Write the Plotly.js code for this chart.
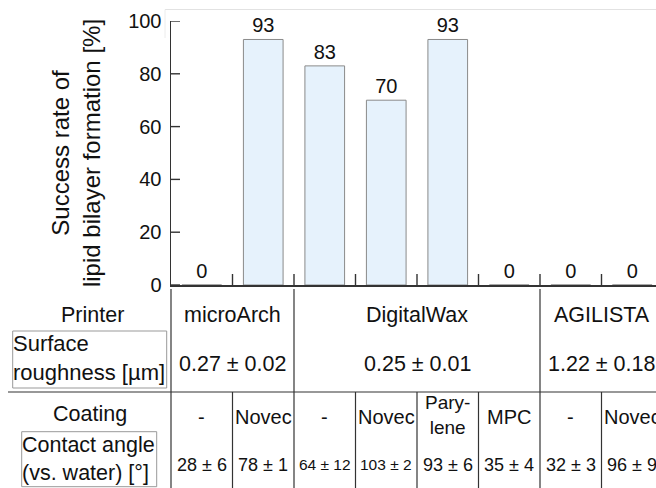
<!DOCTYPE html>
<html><head><meta charset="utf-8">
<script src="https://cdn.plot.ly/plotly-3.0.1.min.js"></script>
<style>html,body{margin:0;padding:0;background:#fff}</style>
</head><body><div id="chart" style="width:656px;height:488px"></div>
<script>
// ---- data ----
const barIndex = [0, 1, 2, 3, 4, 5, 6, 7];
const successRate = [0, 93, 83, 70, 93, 0, 0, 0];
const printers = ['microArch', 'DigitalWax', 'AGILISTA'];
const barsPerPrinter = [2, 4, 2];
const roughness = ['0.27 ± 0.02', '0.25 ± 0.01', '1.22 ± 0.18'];
const coatings = ['-', 'Novec', '-', 'Novec', 'Pary-<br>lene', 'MPC', '-', 'Novec'];
const contactAngles = ['28 ± 6', '78 ± 1', '64 ± 12', '103 ± 2', '93 ± 6', '35 ± 4', '32 ± 3', '96 ± 9'];
const yTickVals = [0, 20, 40, 60, 80, 100];
const yTitle = 'Success rate of<br>lipid bilayer formation [%]';
const rowLabels = ['Printer', 'Surface<br>roughness [µm]', 'Coating', 'Contact angle<br>(vs. water) [°]'];

// ---- geometry ----
const W = 656, H = 488, L = 171, T = 21, B = 203;
const plotW = W - L, plotH = H - T - B;
const catPx = 61.5;
const xRange = [-0.5, -0.5 + plotW / catPx];
const py = Y => (H - B - Y) / plotH;          // pixel row -> paper y
const pxp = X => (X - L) / plotW;             // pixel col -> paper x
const x2p = v => (v - xRange[0]) / (xRange[1] - xRange[0]);
const FONT = 'Liberation Sans, Arial, sans-serif';
const INK = '#111';
const LINE = '#333';

// group boundaries
const groupEdges = [-0.5];
barsPerPrinter.forEach(n => groupEdges.push(groupEdges[groupEdges.length - 1] + n));
const groupCenters = printers.map((p, i) => (groupEdges[i] + groupEdges[i + 1]) / 2);
const allEdges = barIndex.slice(0, -1).map(i => i + 0.5);
const innerEdges = allEdges.filter(e => !groupEdges.includes(e));

const shapes = [];
// faint frame
shapes.push({type: 'line', xref: 'paper', yref: 'paper', x0: pxp(165), x1: pxp(700), y0: py(9.5), y1: py(9.5), line: {color: '#e2e2e2', width: 1}});
shapes.push({type: 'line', xref: 'paper', yref: 'paper', x0: pxp(165), x1: pxp(165), y0: py(9.5), y1: py(38), line: {color: '#ececec', width: 1}});
// inside ticks on the x axis (category separators)
allEdges.forEach(e => shapes.push({type: 'line', xref: 'x', yref: 'paper', x0: e, x1: e, y0: 0, y1: 11 / plotH, line: {color: LINE, width: 1.4}}));
// inside ticks on the y axis
yTickVals.forEach(v => shapes.push({type: 'line', xref: 'paper', yref: 'y', x0: 0, x1: 9 / plotW, y0: v, y1: v, line: {color: LINE, width: 1.4}}));
// table lines
groupEdges.forEach(e => shapes.push({type: 'line', xref: 'paper', yref: 'paper', x0: x2p(e), x1: x2p(e), y0: py(289), y1: py(490), line: {color: LINE, width: 1.2}}));
innerEdges.forEach(e => shapes.push({type: 'line', xref: 'paper', yref: 'paper', x0: x2p(e), x1: x2p(e), y0: py(392), y1: py(490), line: {color: LINE, width: 1.2}}));
shapes.push({type: 'line', xref: 'paper', yref: 'paper', x0: pxp(8), x1: pxp(700), y0: py(392), y1: py(392), line: {color: LINE, width: 1.2}});
// label boxes
shapes.push({type: 'rect', xref: 'paper', yref: 'paper', x0: pxp(12.7), x1: pxp(166.7), y0: py(331), y1: py(388), line: {color: '#999', width: 1}});
shapes.push({type: 'rect', xref: 'paper', yref: 'paper', x0: pxp(21.7), x1: pxp(156.7), y0: py(431.7), y1: py(486.7), line: {color: '#999', width: 1}});

const annotations = [];
const ann = (o) => annotations.push(Object.assign({showarrow: false, yref: 'paper', yanchor: 'middle', xanchor: 'center', borderpad: 0, font: {family: FONT, size: 21.5, color: INK}}, o));
printers.forEach((p, i) => ann({x: groupCenters[i], xref: 'x', y: py(315), text: p}));
roughness.forEach((r, i) => ann({x: groupCenters[i], xref: 'x', y: py(364), text: r}));
coatings.forEach((c, i) => ann({x: barIndex[i], xref: 'x', y: py(c.includes('<br>') ? 415 : 417), text: c, font: {family: FONT, size: c.includes('<br>') ? 19 : 20, color: INK}}));
contactAngles.forEach((c, i) => ann({x: barIndex[i], xref: 'x', y: py(465), text: c, font: {family: FONT, size: c.length > 6 ? 15.5 : 18, color: INK}}));
ann({x: pxp(92), xref: 'paper', y: py(315), text: rowLabels[0]});
ann({x: pxp(12), xref: 'paper', xanchor: 'left', align: 'left', y: py(358), text: rowLabels[1], font: {family: FONT, size: 22, color: INK}});
ann({x: pxp(90), xref: 'paper', y: py(414), text: rowLabels[2]});
ann({x: pxp(21), xref: 'paper', xanchor: 'left', align: 'left', y: py(459), text: rowLabels[3]});

const trace = {
  type: 'bar', x: barIndex, y: successRate,
  text: successRate.map(String), textposition: 'outside', cliponaxis: false,
  textfont: {family: FONT, size: 20, color: INK},
  marker: {color: '#e6f2fc', line: {color: '#8a8a8a', width: 1}},
  hoverinfo: 'skip'
};

const layout = {
  width: W, height: H,
  margin: {l: L, r: 0, t: T, b: B, pad: 0},
  paper_bgcolor: '#fff', plot_bgcolor: 'rgba(0,0,0,0)',
  font: {family: FONT, color: INK},
  showlegend: false,
  bargap: 0.355,
  xaxis: {range: xRange, showline: true, linecolor: LINE, linewidth: 1.5, ticks: '', showticklabels: false, showgrid: false, zeroline: false, fixedrange: true},
  yaxis: {range: [0, 100], tickmode: 'array', tickvals: yTickVals, ticks: '', showline: true, linecolor: LINE, linewidth: 1.5, showgrid: false, zeroline: false, tickfont: {family: FONT, size: 20, color: INK}, ticklabelstandoff: 4, title: {text: yTitle, font: {family: FONT, size: 24, color: INK}, standoff: 20}, fixedrange: true},
  shapes: shapes,
  annotations: annotations
};
Plotly.newPlot('chart', [trace], layout, {displayModeBar: false, staticPlot: true});
</script></body></html>
